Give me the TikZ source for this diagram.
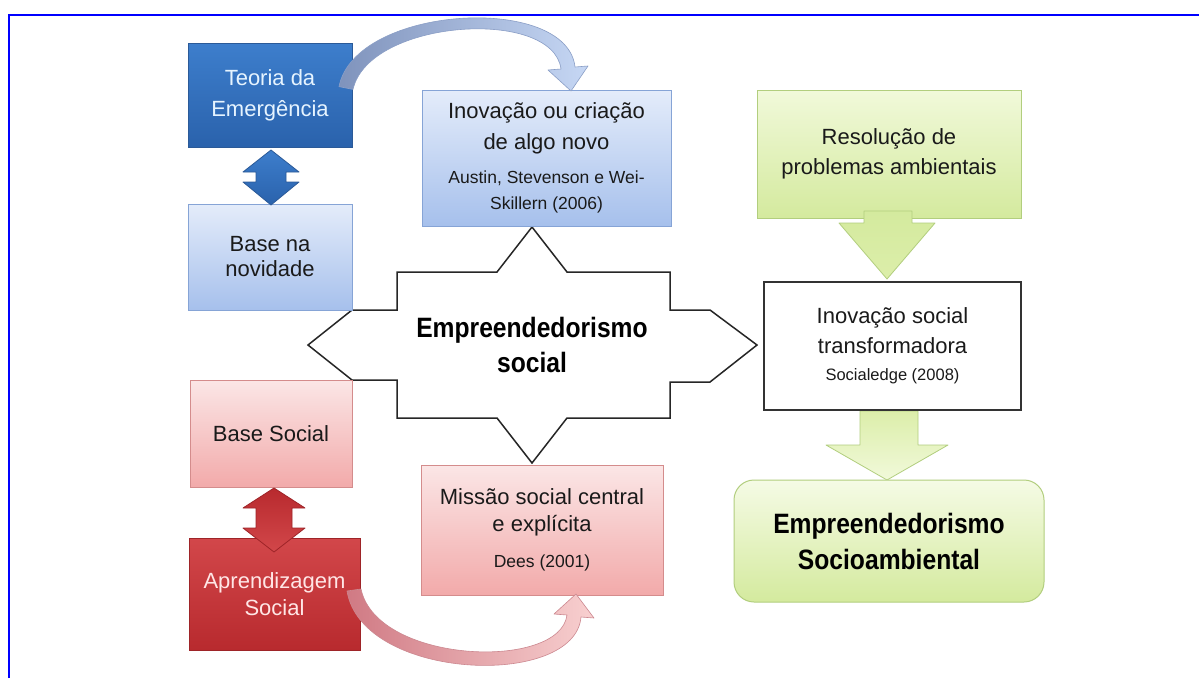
\documentclass[tikz,border=0pt]{standalone}
\usepackage{fontspec}
\setmainfont{Liberation Sans}
\newfontfamily\headfont[FakeStretch=0.88]{Liberation Sans}
\usetikzlibrary{calc}
\definecolor{frameblue}{HTML}{0000FF}
\definecolor{txt}{HTML}{1A1A1A}
\definecolor{teoT}{HTML}{3D7ECC}
\definecolor{teoB}{HTML}{2A62AC}
\definecolor{teoD}{HTML}{2B5A98}
\definecolor{teoTxt}{HTML}{E6F4FF}
\definecolor{lbT}{HTML}{E4ECFA}
\definecolor{lbB}{HTML}{A6C0EC}
\definecolor{lbD}{HTML}{86A4D6}
\definecolor{bcurveA}{HTML}{7F93BC}
\definecolor{bcurveB}{HTML}{C6D7F4}
\definecolor{bcurveD}{HTML}{8A9EC6}
\definecolor{pkT}{HTML}{FBE6E6}
\definecolor{pkB}{HTML}{F2AAAA}
\definecolor{pkD}{HTML}{D48C8C}
\definecolor{drT}{HTML}{D2474A}
\definecolor{drB}{HTML}{B82A2E}
\definecolor{drD}{HTML}{9E2428}
\definecolor{drTxt}{HTML}{FFE6E6}
\definecolor{rcurveA}{HTML}{D07A84}
\definecolor{rcurveB}{HTML}{F8D0D0}
\definecolor{rcurveD}{HTML}{CC8890}
\definecolor{grT}{HTML}{F1F9DA}
\definecolor{grB}{HTML}{D4EA9E}
\definecolor{grD}{HTML}{B2CE7E}
\definecolor{grA}{HTML}{DCEEAA}
\tikzset{
  box/.style={draw, line width=1pt, inner sep=0pt, align=center, text=txt},
  mainfont/.style={font=\fontsize{22}{#1}\selectfont},
  headtext/.style={align=center, text=black, font={\headfont\bfseries\fontsize{28}{#1}\selectfont}},
  blockarrow/.style={line width=0.8pt, line join=round},
}
\newcommand{\citefont}{\fontsize{17.5}{26}\selectfont}
\begin{document}
\begin{tikzpicture}[x=1pt,y=-1pt]
\useasboundingbox (0,0) rectangle (1199,678);
\fill[white] (0,0) rectangle (1199,678);

% frame (only top and left edges visible)
\coordinate (fTL) at (9,15);
\coordinate (fTR) at (1199,15);
\coordinate (fBL) at (9,678);
\draw[frameblue, line width=2pt] (fBL) -- (fTL) -- (fTR);

% ---------- central star ----------
\draw[line width=1.5pt, draw=black!85, fill=white, line join=miter]
  (532,227) -- (567,272) -- (670,272) -- (670,310) -- (710,310) -- (757,345)
  -- (710,382) -- (670,382) -- (670,418) -- (567,418) -- (532,463)
  -- (497,418) -- (397,418) -- (397,380) -- (352,380) -- (308,345)
  -- (352,310) -- (397,310) -- (397,272) -- (497,272) -- cycle;
\node[headtext=35] (es) at (532,345) {Empreendedorismo\\social};

% ---------- blue column ----------
\node[box, minimum width=164pt, minimum height=104pt, top color=teoT, bottom color=teoB,
      draw=teoD, text=teoTxt, mainfont=31] (teo) at (270,95) {Teoria da\\Emergência};
\node[box, minimum width=164pt, minimum height=106pt, top color=lbT, bottom color=lbB,
      draw=lbD, mainfont=25] (nov) at (270,257) {Base na\\novidade};
\shade[top color=teoT, bottom color=teoB, draw=teoD, blockarrow]
  (271,150) -- (299,172) -- (286,172) -- (286,182) -- (299,182) -- (271,205)
  -- (243,182) -- (256,182) -- (256,172) -- (243,172) -- cycle;

\node[box, minimum width=249pt, minimum height=136pt, top color=lbT, bottom color=lbB,
      draw=lbD, mainfont=31] (ino) at (546.5,158)
  {Inovação ou criação\\de algo novo\\[3pt]{\citefont Austin, Stevenson e Wei-}\\[-5pt]{\citefont Skillern (2006)}};

% curved arrow Teoria -> Inovacao
\shade[left color=bcurveA, right color=bcurveB, draw=bcurveD, line width=0.6pt, line join=round]
  (339,86.6) .. controls (355,5) and (567,-7) .. (575,67)
  -- (588,66) -- (571,91) -- (548,70) -- (561,69)
  .. controls (553,7) and (369,19) .. (353,89.4) -- cycle;

% ---------- red column ----------
\node[box, minimum width=162pt, minimum height=107pt, top color=pkT, bottom color=pkB,
      draw=pkD, mainfont=27] (bsoc) at (271,433.5) {Base Social};
\node[box, minimum width=171pt, minimum height=112pt, top color=drT, bottom color=drB,
      draw=drD, text=drTxt, mainfont=27] (apr) at (274.5,594) {Aprendizagem\\Social};
\shade[top color=drB, bottom color=drT, draw=drD, blockarrow]
  (274,488) -- (305,508) -- (292,508) -- (292,528) -- (305,528) -- (274,552)
  -- (243,528) -- (256,528) -- (256,508) -- (243,508) -- cycle;

\node[box, minimum width=242pt, minimum height=130pt, top color=pkT, bottom color=pkB,
      draw=pkD, mainfont=27] (mis) at (542,530)
  {Missão social central\\e explícita\\[9pt]{\citefont Dees (2001)}};

% curved arrow Aprendizagem -> Missao
\shade[left color=rcurveA, right color=rcurveB, draw=rcurveD, line width=0.6pt, line join=round]
  (347,591) .. controls (362,681) and (575,689) .. (581,617)
  -- (594,618) -- (576,594) -- (554,614) -- (567,615)
  .. controls (560,671) and (377,664) .. (361,589) -- cycle;

% ---------- green column ----------
\node[box, minimum width=264pt, minimum height=128pt, top color=grT, bottom color=grB,
      draw=grD, mainfont=30] (res) at (889,154) {Resolução de\\problemas ambientais};

% arrow 2 (behind the box above it)
\shade[top color=grA, bottom color=grT, draw=grD, blockarrow]
  (860,411) -- (918,411) -- (918,445) -- (948,445) -- (887,480) -- (826,445) -- (860,445) -- cycle;

\node[box, minimum width=257pt, minimum height=128pt, fill=white, draw=black!80, line width=1.6pt,
      mainfont=30] (ins) at (892.5,346)
  {Inovação social\\transformadora\\[-3pt]{\fontsize{16.5}{24}\selectfont Socialedge (2008)}};

% arrow 1 (over the bottom edge of Resolucao)
\shade[top color=grB, bottom color=grA, draw=grD, blockarrow]
  (864,211) -- (912,211) -- (912,223) -- (935,223) -- (887,279) -- (839,223) -- (864,223) -- cycle;

\node[box, rounded corners=20pt, minimum width=310pt, minimum height=122pt, top color=grT!70!white,
      bottom color=grB, draw=grD, headtext=36] (eso) at (889,541) {Empreendedorismo\\Socioambiental};
\end{tikzpicture}
\end{document}
